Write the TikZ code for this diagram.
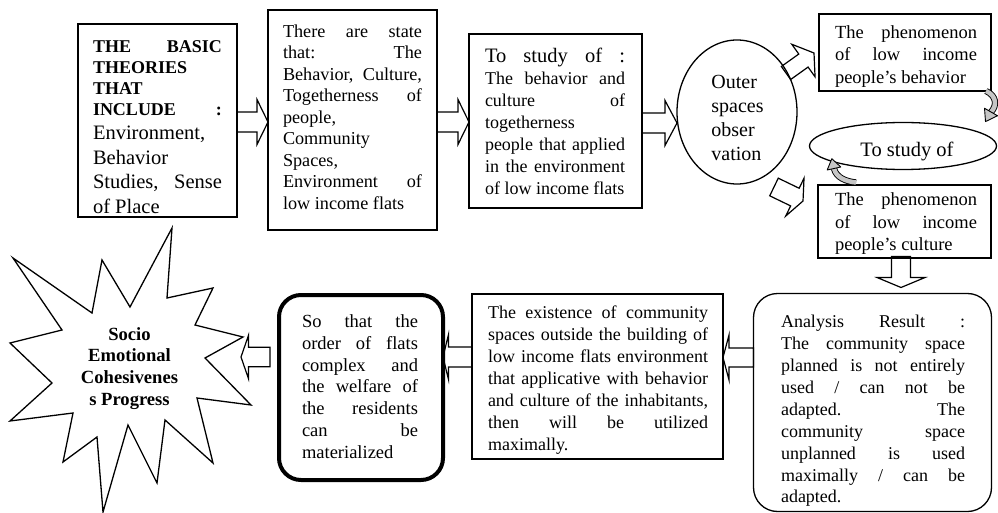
\documentclass[tikz,border=0pt]{standalone}
\usepackage{fontspec}
\setmainfont{Liberation Serif}
\usetikzlibrary{calc,shapes.geometric}
\tikzset{
  box/.style={draw, line width=1.8pt, inner sep=0pt, outer sep=0pt},
  rbox/.style={draw, line width=1.3pt, rounded corners=24pt, inner sep=0pt, outer sep=0pt},
  oval/.style={draw, ellipse, line width=1.3pt, inner sep=0pt, outer sep=0pt},
  txt/.style={inner sep=0pt, outer sep=0pt, align=justify, font=\fontsize{18}{21.7}\selectfont},
  blockarrow/.style={draw, line width=1.2pt, line join=miter},
  curlarrow/.style={draw, line width=0.9pt, double=gray!45, double distance=4.5pt},
  curlhead/.style={draw, line width=0.9pt, fill=gray!45, line join=round},
  burst/.style={draw, line width=1.3pt, line join=miter},
}
% #1 start, #2 tip, #3 shaft half width, #4 head half width, #5 head length
\newcommand\blockarr[5]{%
  \path ($(#2)!#5!(#1)$) coordinate (bhb);
  \draw[blockarrow] ($(#1)!#3!90:(#2)$) -- ($(bhb)!#3!-90:(#1)$) -- ($(bhb)!#4!-90:(#1)$) -- (#2) -- ($(bhb)!#4!90:(#1)$) -- ($(bhb)!#3!90:(#1)$) -- ($(#1)!#3!-90:(#2)$) -- cycle;}
\begin{document}
\begin{tikzpicture}[x=1pt,y=-1pt]
\fill[white] (0,0) rectangle (998,513);
\useasboundingbox (0,0) rectangle (998,513);

% ---------- top row ----------
\node[box, line width=2.2pt, minimum width=159pt, minimum height=193pt] (b1) at (157.5,120.5) {};
\node[txt, text width=129pt] (b1t) at (157.5,127) {\noindent{\parfillskip=0pt\fontsize{18}{21}\selectfont\bfseries THE BASIC\linebreak THEORIES\linebreak THAT\linebreak INCLUDE\hfill:\par}{\fontsize{20.5}{24.5}\selectfont\noindent Environment,\linebreak Behavior\linebreak Studies, Sense\linebreak of Place\par}};

\node[box, minimum width=169pt, minimum height=220pt] (b2) at (352.5,120) {};
\node[txt, text width=139pt, font=\fontsize{18.2}{21.5}\selectfont] (b2t) at (352.5,117) {\noindent There are state\linebreak that: The\linebreak Behavior, Culture,\linebreak Togetherness of\linebreak people,\linebreak Community\linebreak Spaces,\linebreak Environment of\linebreak low income flats};

\node[box, minimum width=173pt, minimum height=174pt] (b3) at (555.5,121) {};
\node[txt, text width=140pt, font=\fontsize{18}{22}\selectfont] (b3t) at (555,121.5) {\noindent{\fontsize{20.5}{22}\selectfont To study of :}\linebreak The behavior and\linebreak culture of\linebreak togetherness\linebreak people that applied\linebreak in the environment\linebreak of low income flats};

\node[oval, minimum width=120pt, minimum height=144pt] (e1) at (737,112) {};
\node[inner sep=0pt, align=left, font=\fontsize{20}{24}\selectfont] (e1t) at (737.5,118) {Outer\\spaces\\obser\\vation};

\node[box, minimum width=172pt, minimum height=77pt] (r1) at (905,52.5) {};
\node[txt, text width=142pt, font=\fontsize{18.5}{22.5}\selectfont] (r1t) at (906,56.5) {\noindent The phenomenon\linebreak of low income\linebreak people’s behavior};

\node[oval, minimum width=187pt, minimum height=47pt] (e2) at (903,146) {};
\node[inner sep=0pt, font=\fontsize{20.5}{24}\selectfont] (e2t) at (907,151) {To study of};

\node[box, minimum width=173pt, minimum height=73pt] (r2) at (904.5,221.5) {};
\node[txt, text width=142pt, font=\fontsize{18.5}{22.5}\selectfont] (r2t) at (906,224) {\noindent The phenomenon\linebreak of low income\linebreak people’s culture};

% ---------- bottom row ----------
\node[rbox, minimum width=238pt, minimum height=218pt] (ana) at (872.5,402.5) {};
\node[txt, text width=184pt, font=\fontsize{18}{21.9}\selectfont] (anat) at (873,411) {\noindent Analysis Result :\linebreak The community space\linebreak planned is not entirely\linebreak used / can not be\linebreak adapted. The\linebreak community space\linebreak unplanned is used\linebreak maximally / can be\linebreak adapted.};

\node[box, minimum width=251pt, minimum height=165pt] (ex) at (597.5,376.5) {};
\node[txt, text width=220pt, font=\fontsize{18}{22}\selectfont] (ext) at (598,380) {\noindent The existence of community\linebreak spaces outside the building of\linebreak low income flats environment\linebreak that applicative with behavior\linebreak and culture of the inhabitants,\linebreak then will be utilized\linebreak maximally.};

\node[rbox, line width=4pt, rounded corners=22pt, minimum width=164pt, minimum height=185pt] (so) at (361,387.5) {};
\node[txt, text width=116pt, font=\fontsize{18.5}{21.8}\selectfont] (sot) at (360,386.5) {\noindent So that the\linebreak order of flats\linebreak complex and\linebreak the welfare of\linebreak the residents\linebreak can be\linebreak materialized};

% starburst
\draw[burst] (172,228) -- (167,298) -- (213,288) -- (195,325) -- (243,337) -- (205,358) -- (251,405) -- (197,398) -- (213,463) -- (165,420) -- (157,483) -- (128,425) -- (103,512) -- (97,437) -- (63,462) -- (73,413) -- (10,421) -- (52,383) -- (10,343) -- (62,330) -- (13,258) -- (92,313) -- (102,260) -- (130,307) -- cycle;
\node[inner sep=0pt, align=center, font=\fontsize{18.6}{21.7}\selectfont\bfseries] (sb) at (129.5,368.4) {Socio\\Emotional\\Cohesivenes\\s Progress};
\coordinate (sbt) at (241,357);

% ---------- block arrows ----------
\coordinate (a1s) at (b1.east |- 0,122);
\coordinate (a1t) at (b2.west |- 0,122);
\blockarr{a1s}{a1t}{10pt}{22.5pt}{11pt}
\coordinate (a2s) at (b2.east |- 0,122);
\coordinate (a2t) at (b3.west |- 0,122);
\blockarr{a2s}{a2t}{10pt}{22.5pt}{11pt}
\coordinate (a3s) at (b3.east |- 0,123);
\coordinate (a3t) at (e1.west |- 0,123);
\blockarr{a3s}{a3t}{10pt}{22.5pt}{12pt}
\coordinate (a4s) at ($(e1.center)+(49,-39)$);
\coordinate (a4t) at ($(r1.west)+(-5,0.5)$);
\blockarr{a4s}{a4t}{8pt}{20pt}{13pt}
\coordinate (a5s) at ($(e1.center)+(37,75)$);
\coordinate (a5t) at ($(r2.west)+(-15,-20.5)$);
\blockarr{a5s}{a5t}{9.8pt}{21pt}{9pt}
\coordinate (a6s) at ($(r2.south)+(-3.5,-1.5)$);
\coordinate (a6t) at ($(a6s |- ana.north)+(0,-6)$);
\blockarr{a6s}{a6t}{9.5pt}{24pt}{10pt}
\coordinate (a7s) at (ana.west |- 0,357.5);
\coordinate (a7t) at (ex.east |- 0,357.5);
\blockarr{a7s}{a7t}{9.5pt}{22.5pt}{6pt}
\coordinate (a8s) at (ex.west |- 0,357);
\coordinate (a8t) at (so.east |- 0,357);
\blockarr{a8s}{a8t}{10pt}{22.5pt}{5.5pt}
\coordinate (a9s) at ($(so.west |- 0,357)+(-9,0)$);
\blockarr{a9s}{sbt}{9.7pt}{21.7pt}{7.5pt}

% ---------- curled grey arrows ----------
\coordinate (c1s) at ($(r1.south east)+(-5,0)$);
\draw[curlarrow] (c1s) .. controls ($(c1s)+(11,5)$) and ($(c1s)+(11,15)$) .. ($(c1s)+(5,21)$);
\draw[curlhead] ($(c1s)+(11.5,24.75)$) -- ($(c1s)+(-0.5,30.6)$) -- ($(c1s)+(-1.5,17.25)$) -- cycle;
\coordinate (c2s) at ($(r2.north west)+(38,-2.5)$);
\draw[curlarrow] (c2s) .. controls ($(c2s)+(-10,-1)$) and ($(c2s)+(-20,-5)$) .. ($(c2s)+(-22,-14)$);
\draw[curlhead] ($(c2s)+(-15.2,-15.5)$) -- ($(c2s)+(-24.2,-23.8)$) -- ($(c2s)+(-28.8,-12.5)$) -- cycle;
\end{tikzpicture}
\end{document}
